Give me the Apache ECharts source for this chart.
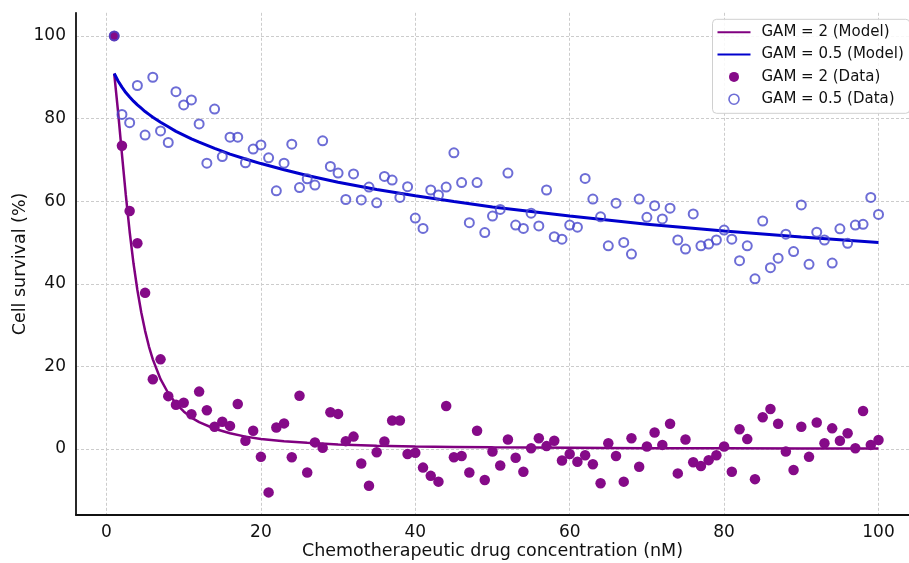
<!DOCTYPE html>
<html><head><meta charset="utf-8">
<script src="https://cdn.jsdelivr.net/npm/echarts@6/dist/echarts.min.js"></script>
<style>html,body{margin:0;padding:0;background:#fff}#c{width:909px;height:563px}</style>
</head><body><div id="c"></div>
<script>
// concentrations (nM) of the data points
const conc = [1,2,3,4,5,6,7,8,9,10,11,12,13,14,15,16,17,18,19,20,21,22,23,24,25,26,27,28,29,30,31,32,33,34,35,36,37,38,39,40,41,42,43,44,45,46,47,48,49,50,51,52,53,54,55,56,57,58,59,60,61,62,63,64,65,66,67,68,69,70,71,72,73,74,75,76,77,78,79,80,81,82,83,84,85,86,87,88,89,90,91,92,93,94,95,96,97,98,99,100];
// GAM = 2 (Data)
const gam2Data = [100,73.4,57.6,49.8,37.8,16.9,21.7,12.8,10.7,11.2,
  8.4,13.9,9.4,5.4,6.6,5.6,10.9,2.0,4.4,-1.9,
  -10.5,5.2,6.2,-2.0,12.9,-5.7,1.6,0.3,8.9,8.5,
  1.9,3.0,-3.5,-8.9,-0.8,1.8,6.9,6.9,-1.2,-0.9,
  -4.5,-6.5,-7.9,10.4,-2.0,-1.7,-5.7,4.4,-7.5,-0.6,
  -4.0,2.3,-2.1,-5.5,0.2,2.6,0.7,2.0,-2.8,-1.2,
  -3.1,-1.5,-3.7,-8.3,1.4,-1.7,-7.9,2.6,-4.3,0.6,
  4.0,1.0,6.1,-5.9,2.3,-3.2,-4.1,-2.7,-1.5,0.6,
  -5.5,4.8,2.4,-7.3,7.7,9.7,6.1,-0.6,-5.1,5.4,
  -1.9,6.4,1.4,5.0,2.0,3.8,0.2,9.2,1.0,2.2];
// GAM = 0.5 (Data)
const gam05Data = [100,81,79,88,76,90,77,74.2,86.5,83.3,
  84.5,78.7,69.2,82.3,70.8,75.5,75.5,69.3,72.6,73.6,
  70.5,62.5,69.2,73.8,63.3,65.4,63.9,74.6,68.4,66.8,
  60.4,66.6,60.3,63.4,59.6,66,65.1,60.9,63.5,55.9,
  53.4,62.7,61.5,63.4,71.7,64.5,54.8,64.5,52.4,56.4,
  58,66.8,54.2,53.4,57.1,54,62.7,51.4,50.8,54.2,
  53.7,65.5,60.5,56.2,49.2,59.5,50,47.2,60.5,56.1,
  58.9,55.7,58.3,50.6,48.4,56.9,49.2,49.6,50.6,53,
  50.8,45.6,49.2,41.2,55.2,43.9,46.2,52,47.8,59.1,
  44.7,52.5,50.6,45,53.3,49.8,54.2,54.4,60.9,56.8];
// model curves
const modelConc = [1,1.5,2,2.5,3,3.5,4,4.5,5,5.5,6,7,8,9,10,11,12,14,16,18,20,23,26,30,35,40,45,50,60,70,80,90,100];
const gam2Model = [90.9,81.6,71.4,61.5,52.6,44.9,38.5,33.1,28.6,24.8,21.7,16.9,13.5,11.0,9.1,7.6,6.5,4.9,3.8,3.0,2.4,1.9,1.5,1.1,0.8,0.6,0.5,0.4,0.3,0.2,0.16,0.12,0.1];
const gam05Model = [90.9,89.1,87.6,86.3,85.2,84.2,83.3,82.5,81.7,81.0,80.3,79.1,78.0,76.9,76.0,75.1,74.3,72.8,71.4,70.2,69.1,67.6,66.2,64.6,62.8,61.3,59.9,58.6,56.4,54.4,52.8,51.3,50.0];
const xTickLabels = [0,20,40,60,80,100];
const yTickLabels = [0,20,40,60,80,100];
const seriesNames = ['GAM = 2 (Model)','GAM = 0.5 (Model)','GAM = 2 (Data)','GAM = 0.5 (Data)'];

const zip = (xs, ys) => xs.map((x, i) => [x, ys[i]]);
const FONT = 'DejaVu Sans';
const chart = echarts.init(document.getElementById('c'), null, {renderer: 'canvas'});
const gridLine = {show: true, showMinLine: false, showMaxLine: false, lineStyle: {color: '#cccccc', width: 1, type: [3, 2]}};
const noSymbol = {color: 'rgba(0,0,0,0)', borderWidth: 0, opacity: 0};
chart.setOption({
  animation: false,
  backgroundColor: '#ffffff',
  grid: {left: 76, right: 0, top: 12.8, bottom: 47.9, containLabel: false, outerBoundsMode: 'none'},
  xAxis: {
    type: 'value', min: -3.95, max: 103.95,
    name: 'Chemotherapeutic drug concentration (nM)', nameLocation: 'middle', nameGap: 27, nameMoveOverlap: false,
    nameTextStyle: {fontFamily: FONT, fontSize: 17.5, color: '#111'},
    axisLine: {show: true, onZero: false, lineStyle: {color: '#111', width: 1.8}},
    axisTick: {show: false},
    axisLabel: {fontFamily: FONT, fontSize: 17, color: '#111', margin: 9, showMinLabel: false, showMaxLabel: false,
      formatter: v => xTickLabels.includes(v) ? String(v) : ''},
    splitLine: gridLine
  },
  yAxis: {
    type: 'value', min: -16, max: 105.6,
    name: 'Cell survival (%)', nameLocation: 'middle', nameGap: 47, nameMoveOverlap: false,
    nameTextStyle: {fontFamily: FONT, fontSize: 17.5, color: '#111'},
    axisLine: {show: true, onZero: false, lineStyle: {color: '#111', width: 1.8}},
    axisTick: {show: false},
    axisLabel: {fontFamily: FONT, fontSize: 17, color: '#111', margin: 10, showMinLabel: false, showMaxLabel: false,
      formatter: v => yTickLabels.includes(v) ? String(v) : ''},
    splitLine: gridLine
  },
  legend: {
    orient: 'vertical', left: 712.5, top: 19.3,
    padding: [5.5, 6, 6.6, 4],
    itemWidth: 33, itemHeight: 10, itemGap: 7.3,
    backgroundColor: 'rgba(255,255,255,0.85)', borderColor: '#d0d0d0', borderWidth: 1, borderRadius: 4,
    textStyle: {fontFamily: FONT, fontSize: 15, color: '#111', lineHeight: 15, padding: [0, 0, 0, 6]},
    data: [
      {name: seriesNames[0], itemStyle: noSymbol},
      {name: seriesNames[1], itemStyle: noSymbol},
      {name: seriesNames[2], icon: 'circle'},
      {name: seriesNames[3], icon: 'circle', itemStyle: {color: 'rgba(0,0,0,0)', borderColor: '#4848cc', borderWidth: 1.6}}
    ]
  },
  series: [
    {name: seriesNames[0], type: 'line', data: zip(modelConc, gam2Model), symbol: 'none', smooth: false,
      lineStyle: {color: '#800080', width: 2.5}, itemStyle: {color: '#800080'}, z: 2},
    {name: seriesNames[1], type: 'line', data: zip(modelConc, gam05Model), symbol: 'none', smooth: false,
      lineStyle: {color: '#0000cd', width: 3}, itemStyle: {color: '#0000cd'}, z: 3},
    {name: seriesNames[2], type: 'scatter', data: zip(conc, gam2Data), symbol: 'circle', symbolSize: 10.5,
      itemStyle: {color: '#850a88', opacity: 1}, z: 4},
    {name: seriesNames[3], type: 'scatter', data: zip(conc, gam05Data), symbol: 'circle', symbolSize: 9,
      itemStyle: {color: 'rgba(0,0,0,0)', borderColor: '#4848cc', borderWidth: 2}, z: 5}
  ]
});
</script></body></html>
